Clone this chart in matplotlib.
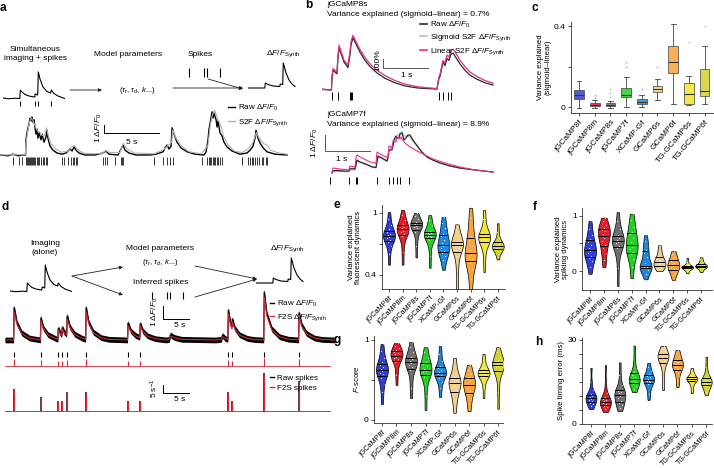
import numpy as np
import matplotlib
matplotlib.use("Agg")
import matplotlib.pyplot as plt
from matplotlib.lines import Line2D

plt.rcParams['font.family'] = ['Liberation Sans', 'DejaVu Sans']
plt.rcParams['mathtext.fontset'] = 'custom'
plt.rcParams['mathtext.rm'] = 'Liberation Sans'
plt.rcParams['mathtext.it'] = 'Liberation Sans:italic'
plt.rcParams['mathtext.bf'] = 'Liberation Sans:bold'
plt.rcParams['font.size'] = 6.0

# ------------------------------------------------------------------ data
cats = ['jGCaMP8f', 'jGCaMP8m', 'jGCaMP8s', 'jGCaMP7f', 'XCaMP-Gf',
        'GCaMP6s', 'GCaMP6f', 'TG-GCaMP6s', 'TG-GCaMP6f']
cat_colors = ['#2f3fd6', '#e41e2b', '#707070', '#25d025', '#1e88e0',
              '#f3cf8e', '#f8a43a', '#f6e52e', '#d3d32b']

# schematic traces (a, d)
sketch_spikes = [17, 32, 35, 48]
sketch_raw_t = [0, 6, 12, 16.8, 17.3, 19, 22, 26, 30, 31.8, 32.2, 34.7, 35.3, 37, 40, 44, 47.7, 48.3, 51, 55, 59, 62]
sketch_raw_v = [1.0, 0.3, 0.8, 0.5, 9.0, 7.0, 4.5, 3.0, 2.2, 2.0, 5.0, 4.0, 27.0, 20.0, 12.0, 7.5, 6.0, 9.0, 5.5, 3.0, 1.5, 0.5]
sketch_syn_t = [0, 16.8, 17.3, 20, 25, 31.8, 32.2, 34.7, 35.3, 38, 41, 44, 47]
sketch_syn_v = [0, 0, 5.0, 3.5, 2.0, 1.5, 4.0, 3.5, 25.0, 15.0, 8.0, 4.0, 1.5]

# a: recorded trace (s, dF/F)
a_raw_t = [0, 0.73, 1.18, 1.64, 2.0, 2.32, 2.36, 2.45, 2.64, 2.73, 2.82, 2.91, 3.0, 3.09, 3.18, 3.27, 3.36, 3.45, 3.55,
           3.73, 3.82, 4.0, 4.18, 4.27, 4.36, 4.55, 4.82, 5.18, 5.64, 6.0, 6.36, 6.55, 6.73, 6.91, 7.18, 7.73, 8.64,
           9.36, 9.64, 9.91, 10.73, 11.0, 11.18, 11.36, 11.73, 12.36, 13.64, 14.18, 14.82, 15.0, 15.18, 15.36, 15.55,
           15.64, 15.82, 16.09, 16.45, 17.0, 17.73, 18.55, 18.73, 18.91, 19.0, 19.18, 19.27, 19.36, 19.45, 19.64, 19.73,
           19.82, 20.0, 20.18, 20.36, 20.64, 21.09, 21.82, 22.45, 22.73, 23.0, 23.18, 23.27, 23.45, 23.64, 23.91, 24.27,
           25.0, 26.09]
a_raw_v = [0, -0.1, 0.1, -0.1, 0, 0, 1.9, 2.75, 3.9, 4.6, 4.25, 4.75, 4.1, 4.4, 3.4, 2.6, 3.25, 2.1, 2.75,
           1.9, 2.6, 1.6, 2.25, 3.1, 2.1, 1.1, 0.6, 0.25, 0.1, 0.25, 0.75, 0.5, 1.0, 0.6, 0.25, 0, 0,
           0.25, 0.5, 0.1, 0, 0.75, 1.25, 0.6, 0.25, 0, 0, 0.1, 0.4, 0.9, 1.25, 0.75, 1.1,
           3.4, 2.6, 1.6, 0.9, 0.4, 0.1, 0, 0.4, 1.9, 3.25, 4.6, 5.4, 4.6, 5.25, 4.4, 3.5,
           4.25, 2.75, 2.4, 1.6, 1.0, 0.5, 0.1, 0.25, 0.6, 1.1, 2.1, 3.1, 2.1, 1.5, 0.9, 0.4,
           0.1, 0]
a_s2f_t = [0, 2.3, 2.36, 2.5, 2.7, 2.85, 3.0, 3.2, 3.4, 3.6, 3.8, 4.0, 4.22, 4.35, 4.6, 5.0, 5.6, 6.2, 6.5, 6.75,
           7.1, 7.7, 9.3, 9.6, 10.0, 10.9, 11.2, 11.5, 12.2, 14.0, 14.9, 15.2, 15.6, 15.7, 16.0, 16.5, 17.2, 18.3,
           18.9, 19.1, 19.3, 19.5, 19.7, 19.9, 20.1, 20.3, 20.7, 21.3, 22.0, 22.6, 23.0, 23.3, 23.6, 24.0, 24.3,
           24.6, 25.2, 26.1]
a_s2f_v = [0, 0.05, 1.5, 2.8, 4.2, 4.6, 4.3, 3.6, 3.0, 2.9, 2.5, 2.3, 3.4, 2.6, 1.5, 0.8, 0.35, 0.5, 1.0, 1.2,
           0.6, 0.2, 0.15, 0.55, 0.3, 0.3, 1.5, 0.8, 0.25, 0.15, 0.7, 1.1, 1.6, 3.1, 2.1, 1.1, 0.4, 0.15,
           1.2, 3.6, 5.0, 5.6, 4.8, 4.2, 3.6, 2.4, 1.3, 0.5, 0.3, 0.8, 1.6, 2.8, 2.0, 1.4, 1.2,
           0.6, 0.3, 0.1]
a_spikes = [1.21, 1.76, 1.97, 2.36, 2.48, 2.58, 2.67, 2.73, 2.82, 2.91, 3.03, 3.12, 3.21, 3.33, 3.48, 3.58, 3.70,
            3.88, 4.03, 4.15, 4.24, 5.61, 5.82, 6.21, 6.42, 6.61, 6.73, 6.91, 7.03, 9.33, 9.52, 9.70, 10.45,
            10.97, 11.09, 11.21, 14.0, 14.85, 15.15, 15.45, 15.70, 18.33, 18.85, 18.97, 19.09, 19.21, 19.33,
            19.45, 19.58, 19.70, 19.85, 20.0, 20.15, 21.97, 22.58, 22.73, 22.88, 23.03, 23.18, 23.39, 23.58,
            23.79, 23.94, 24.15, 24.30]

# b: jGCaMP8s (s, dF/F)
b1_t = [0, 0.21, 0.222, 0.244, 0.333, 0.356, 0.378, 0.489, 0.578, 0.622, 0.644, 0.689, 0.756, 0.844, 0.956, 1.067,
        1.222, 1.4, 1.622, 1.844, 2.133, 2.556, 2.6, 2.622, 2.689, 2.733, 2.778, 2.822, 2.867, 2.911, 2.978, 3.067,
        3.178, 3.289, 3.444, 3.622, 3.8]
b1_raw = [0.1, 0.0, 1.3, 2.2, 1.8, 3.6, 4.7, 3.1, 2.5, 3.9, 5.0, 5.8, 5.1, 4.2, 3.3, 2.6, 1.9, 1.3, 0.8, 0.45, 0.22,
          0.1, 1.3, 1.5, 3.1, 2.7, 3.5, 3.3, 4.0, 4.1, 3.6, 2.9, 2.2, 1.65, 1.2, 0.8, 0.55]
b1_sig = [0.05, 0.0, 1.4, 2.3, 1.9, 3.8, 4.9, 3.3, 2.75, 4.2, 5.2, 5.9, 5.3, 4.5, 3.6, 2.9, 2.2, 1.6, 1.05, 0.65,
          0.35, 0.15, 1.4, 1.6, 3.2, 2.9, 3.8, 3.6, 4.3, 4.5, 4.0, 3.3, 2.6, 2.0, 1.5, 1.05, 0.75]
b1_lin = [0.05, 0.0, 1.5, 2.4, 2.0, 3.9, 5.0, 3.3, 2.8, 4.3, 5.4, 6.1, 5.4, 4.5, 3.6, 2.9, 2.2, 1.6, 1.05, 0.65,
          0.35, 0.15, 1.5, 1.7, 3.3, 3.0, 3.9, 3.7, 4.4, 4.55, 4.1, 3.3, 2.6, 2.0, 1.5, 1.05, 0.75]
b1_spikes = [0.222, 0.356, 0.622, 0.644, 0.667, 2.6, 2.689, 2.8, 2.867]

# b: jGCaMP7f
b2_raw_t = [0.0, 0.022, 0.089, 0.289, 0.378, 0.4, 0.444, 0.511, 0.533, 0.556, 0.622, 0.756, 0.889, 0.978, 1.0,
            1.022, 1.111, 1.222, 1.244, 1.267, 1.333, 1.356, 1.378, 1.422, 1.444, 1.489, 1.511, 1.556, 1.6, 1.644,
            1.689, 1.733, 1.8, 1.911, 2.0, 2.111, 2.244, 2.4, 2.622, 2.844, 3.178, 3.578]
b2_raw_v = [0, 0.13, 0.16, 0.12, 0.12, 0.25, 0.28, 0.25, 0.5, 0.81, 0.69, 0.56, 0.38, 0.34, 0.7,
            1.06, 0.94, 0.75, 0.94, 1.44, 1.44, 1.69, 2.06, 2.31, 2.19, 2.19, 2.44, 2.5, 2.06, 2.19,
            2.375, 2.375, 2.06, 1.63, 1.31, 1.0, 0.81, 0.63, 0.44, 0.31, 0.19, 0.06]
b2_sig_t = [0, 0.022, 0.378, 0.4, 0.511, 0.533, 0.556, 0.75, 0.978, 1.0, 1.022, 1.222, 1.267, 1.356, 1.444, 1.511,
            1.556, 1.6, 1.689, 1.733, 1.8, 1.911, 2.0, 2.111, 2.244, 2.4, 2.622, 2.844, 3.178, 3.578]
b2_sig_v = [0, 0.1, 0.08, 0.2, 0.18, 0.45, 0.75, 0.52, 0.32, 0.7, 1.0, 0.72, 1.4, 1.75, 2.3, 2.5,
            2.6, 2.3, 2.3, 2.25, 2.0, 1.6, 1.3, 1.0, 0.8, 0.62, 0.43, 0.3, 0.18, 0.06]
b2_lin_t = [0, 0.022, 0.178, 0.378, 0.4, 0.511, 0.533, 0.556, 0.667, 0.844, 0.978, 1.0, 1.111, 1.244, 1.267, 1.333,
            1.356, 1.422, 1.444, 1.511, 1.533, 1.622, 1.733, 1.889, 2.067, 2.244, 2.511, 2.844, 3.178, 3.578]
b2_lin_v = [0, 0.31, 0.25, 0.19, 0.44, 0.375, 0.94, 1.125, 0.94, 0.69, 0.6, 1.31, 1.125, 0.94, 1.69, 1.56,
            2.0, 1.94, 2.25, 2.125, 2.25, 1.875, 1.625, 1.375, 1.125, 0.875, 0.625, 0.375, 0.19, 0.06]
b2_spikes = [-0.044, 0.378, 0.533, 0.556, 1.0, 1.267, 1.356, 1.444, 1.511, 1.711]

# c: variance explained (sigmoid - linear), box statistics
c_med = [0.057, 0.010, 0.010, 0.060, 0.025, 0.090, 0.220, 0.065, 0.080]
c_q1 = [0.039, 0.003, 0.003, 0.048, 0.015, 0.074, 0.167, 0.015, 0.053]
c_q3 = [0.082, 0.018, 0.020, 0.093, 0.041, 0.105, 0.300, 0.120, 0.190]
c_lo = [-0.005, -0.005, -0.004, 0.000, 0.000, 0.036, 0.015, 0.010, 0.015]
c_hi = [0.130, 0.035, 0.032, 0.148, 0.057, 0.138, 0.410, 0.155, 0.300]
c_fliers = [[], [0.045, 0.06], [0.05, 0.07, 0.09], [0.2, 0.22], [0.09], [0.2], [], [0.32], [0.4]]

# d: imaging alone (s, dF/F) and spikes
d_t = [0, 1.65, 1.75, 2.3, 3.2, 4.7, 6.8, 6.9, 7.4, 8.3, 9.8, 10.15, 10.25, 10.6, 10.9, 11.0, 11.4, 11.85, 11.95,
       12.5, 13.4, 14.9, 15.5, 15.6, 16.1, 17.0, 18.5, 20.0, 23.55, 23.65, 24.2, 25.1, 25.9, 26.0, 26.5, 27.4, 28.9,
       31.0, 31.6, 31.8, 32.5, 34.0, 40.5, 41.6, 41.8, 42.4, 42.85, 42.95, 43.4, 43.6, 43.7, 44.2, 45.1, 46.6, 48.0,
       49.75, 49.85, 50.35, 51.3, 52.8, 54.5, 56.45, 56.55, 57.05, 58.0, 59.5, 61.0, 63.5]
d_raw = [0, 0, 2.5, 1.3, 0.55, 0.15, 0.0, 1.7, 0.9, 0.4, 0.1, 0.05, 0.9, 0.55, 0.4, 0.95, 0.6, 0.45, 1.85,
         1.0, 0.45, 0.12, 0.05, 2.5, 1.35, 0.6, 0.18, 0.05, 0.0, 1.3, 0.7, 0.35, 0.2, 1.25, 0.7, 0.32, 0.1,
         0.0, 0.05, 0.4, 0.2, 0.05, 0.0, 0.05, 0.35, 0.1, 0.05, 2.3, 1.2, 1.0, 1.6, 0.9, 0.4, 0.12, 0.03,
         0.0, 3.7, 2.0, 0.85, 0.25, 0.06, 0.0, 2.1, 1.15, 0.5, 0.15, 0.04, 0.0]
d_f2s = [0, 0, 2.2, 1.2, 0.5, 0.14, 0.0, 1.5, 0.85, 0.38, 0.1, 0.05, 0.8, 0.5, 0.38, 0.85, 0.55, 0.42, 1.6,
         0.95, 0.42, 0.12, 0.05, 2.2, 1.25, 0.55, 0.17, 0.05, 0.0, 1.1, 0.65, 0.32, 0.18, 1.1, 0.65, 0.3, 0.1,
         0.0, 0.05, 0.3, 0.18, 0.05, 0.0, 0.05, 0.25, 0.1, 0.05, 2.0, 1.1, 0.95, 1.4, 0.85, 0.38, 0.12, 0.03,
         0.0, 3.3, 1.85, 0.8, 0.24, 0.06, 0.0, 1.9, 1.05, 0.48, 0.15, 0.04, 0.0]
d_spikes = [1.75, 6.9, 10.25, 11.0, 11.95, 15.6, 23.65, 26.0, 42.95, 43.7, 49.85, 56.55]
d_inferred = [0.55, 0.45, 0.35, 0.35, 0.45, 0.5, 0.35, 0.35, 0.45, 0.35, 0.6, 0.5]
d_rate_raw = [14, 8.5, 6.5, 6.5, 12, 12, 6.5, 6.5, 12, 6.5, 23.5, 19]
d_rate_f2s = [13, 8, 6, 6, 11.5, 11.5, 6, 6, 11.5, 6, 22.5, 18]

# e: variance explained, fluorescent dynamics (per-cell values)
e_data = [
    [0.50, 0.60, 0.68, 0.72, 0.74, 0.76, 0.77, 0.78, 0.79, 0.80, 0.82, 0.84, 0.88, 0.94, 1.01],
    [0.50, 0.62, 0.72, 0.78, 0.80, 0.82, 0.83, 0.84, 0.85, 0.86, 0.88, 0.89, 0.93, 0.98, 1.03],
    [0.57, 0.68, 0.76, 0.82, 0.85, 0.86, 0.87, 0.88, 0.89, 0.90, 0.90, 0.91, 0.94, 0.97, 1.00],
    [0.47, 0.58, 0.68, 0.74, 0.77, 0.78, 0.78, 0.79, 0.80, 0.81, 0.81, 0.83, 0.88, 0.93, 0.98],
    [0.45, 0.54, 0.58, 0.61, 0.63, 0.66, 0.68, 0.69, 0.71, 0.74, 0.78, 0.80, 0.85, 0.90, 0.96],
    [0.25, 0.38, 0.50, 0.58, 0.66, 0.68, 0.68, 0.69, 0.70, 0.70, 0.71, 0.73, 0.78, 0.84, 0.89],
    [0.25, 0.36, 0.46, 0.52, 0.55, 0.57, 0.59, 0.61, 0.64, 0.68, 0.74, 0.78, 0.86, 0.95, 1.05],
    [0.43, 0.55, 0.65, 0.71, 0.73, 0.74, 0.75, 0.765, 0.77, 0.78, 0.79, 0.80, 0.86, 0.94, 1.03],
    [0.55, 0.60, 0.63, 0.65, 0.66, 0.665, 0.67, 0.68, 0.69, 0.70, 0.71, 0.72, 0.76, 0.82, 0.90],
]
# f: variance explained, spiking dynamics
f_data = [
    [-0.05, 0.08, 0.18, 0.23, 0.27, 0.32, 0.36, 0.38, 0.41, 0.47, 0.53, 0.58, 0.66, 0.77, 0.91],
    [0.07, 0.20, 0.32, 0.42, 0.48, 0.55, 0.60, 0.64, 0.68, 0.72, 0.75, 0.78, 0.83, 0.90, 0.97],
    [-0.27, 0.05, 0.28, 0.42, 0.46, 0.50, 0.53, 0.55, 0.57, 0.60, 0.63, 0.66, 0.76, 0.90, 1.07],
    [-0.13, 0.08, 0.22, 0.31, 0.35, 0.40, 0.44, 0.47, 0.52, 0.60, 0.67, 0.71, 0.80, 0.92, 1.04],
    [-0.15, -0.05, 0.02, 0.05, 0.07, 0.08, 0.09, 0.10, 0.15, 0.25, 0.33, 0.38, 0.45, 0.55, 0.65],
    [0.0, 0.03, 0.06, 0.08, 0.10, 0.12, 0.14, 0.16, 0.18, 0.20, 0.23, 0.27, 0.32, 0.39, 0.47],
    [-0.16, -0.08, -0.03, 0.01, 0.03, 0.06, 0.09, 0.11, 0.13, 0.15, 0.18, 0.22, 0.26, 0.31, 0.36],
    [-0.04, 0.0, 0.03, 0.045, 0.055, 0.06, 0.065, 0.07, 0.075, 0.08, 0.085, 0.095, 0.12, 0.17, 0.24],
    [-0.02, 0.02, 0.05, 0.065, 0.075, 0.08, 0.085, 0.09, 0.10, 0.11, 0.125, 0.14, 0.17, 0.21, 0.25],
]
# g: F-score
g_data = [
    [0.20, 0.35, 0.45, 0.53, 0.57, 0.59, 0.61, 0.62, 0.64, 0.66, 0.69, 0.72, 0.78, 0.86, 0.95],
    [0.44, 0.56, 0.65, 0.72, 0.76, 0.78, 0.79, 0.80, 0.82, 0.84, 0.85, 0.87, 0.90, 0.93, 0.96],
    [0.275, 0.40, 0.52, 0.62, 0.66, 0.69, 0.71, 0.72, 0.74, 0.76, 0.77, 0.79, 0.85, 0.91, 0.975],
    [0.125, 0.30, 0.45, 0.54, 0.58, 0.60, 0.61, 0.625, 0.64, 0.67, 0.70, 0.72, 0.78, 0.85, 0.91],
    [0.29, 0.40, 0.48, 0.53, 0.56, 0.58, 0.585, 0.59, 0.60, 0.63, 0.65, 0.68, 0.74, 0.83, 0.925],
    [0.09, 0.20, 0.28, 0.33, 0.37, 0.41, 0.44, 0.46, 0.48, 0.50, 0.51, 0.54, 0.60, 0.68, 0.775],
    [0.11, 0.20, 0.27, 0.32, 0.36, 0.40, 0.42, 0.44, 0.46, 0.49, 0.51, 0.54, 0.58, 0.63, 0.69],
    [0.275, 0.40, 0.48, 0.54, 0.56, 0.57, 0.58, 0.585, 0.59, 0.60, 0.61, 0.63, 0.68, 0.75, 0.825],
    [0.14, 0.35, 0.50, 0.60, 0.63, 0.66, 0.68, 0.69, 0.70, 0.71, 0.72, 0.74, 0.79, 0.85, 0.91],
]
# h: spike timing error (ms)
h_data = [
    [5.3, 6.3, 7.0, 7.6, 8.2, 8.7, 9.0, 9.3, 9.6, 10.0, 10.3, 10.6, 12.0, 15.0, 20.0],
    [4.3, 5.2, 5.9, 6.5, 7.1, 7.5, 7.7, 7.9, 8.2, 8.7, 9.1, 9.6, 11.0, 14.5, 21.0],
    [4.6, 5.8, 6.7, 7.5, 8.3, 9.2, 9.9, 10.4, 10.9, 11.4, 11.8, 12.3, 14.0, 17.5, 22.0],
    [11.4, 12.5, 13.4, 14.3, 14.9, 15.4, 15.7, 16.0, 16.4, 16.9, 17.6, 18.5, 20.0, 23.5, 28.0],
    [8.6, 10.8, 12.5, 14.2, 14.9, 15.2, 15.5, 15.7, 16.1, 16.7, 17.3, 17.8, 18.8, 20.2, 21.8],
    [12.1, 15.5, 18.5, 21.2, 22.4, 23.0, 23.3, 23.6, 24.0, 24.5, 24.9, 25.3, 26.0, 27.0, 27.9],
    [13.2, 15.3, 17.2, 18.9, 19.7, 20.3, 20.7, 21.0, 21.4, 22.0, 22.6, 23.2, 24.2, 25.3, 26.4],
    [11.0, 12.6, 13.9, 15.2, 15.6, 15.8, 15.9, 16.0, 16.2, 16.5, 16.7, 17.0, 17.8, 18.9, 20.0],
    [10.4, 11.6, 12.6, 13.6, 14.2, 14.6, 14.8, 15.0, 15.3, 15.7, 16.2, 16.7, 18.0, 20.5, 24.0],
]

# ------------------------------------------------------------------ figure
W, H = 714, 468
fig = plt.figure(figsize=(W / 100, H / 100), dpi=100)

ov = fig.add_axes([0, 0, 1, 1])
ov.set_xlim(0, W)
ov.set_ylim(H, 0)
ov.axis('off')


def pax(x0, y0, x1, y1):
    ax = fig.add_axes([x0 / W, 1 - y1 / H, (x1 - x0) / W, (y1 - y0) / H])
    ax.patch.set_alpha(0)
    return ax


def trace_ax(x0, y0, x1, y1, xlim, ylim):
    ax = pax(x0, y0, x1, y1)
    ax.set_xlim(*xlim)
    ax.set_ylim(*ylim)
    ax.axis('off')
    return ax


def arrow(x0, y0, x1, y1):
    ov.annotate('', xy=(x1, y1), xytext=(x0, y0),
                arrowprops=dict(arrowstyle='-|>', lw=0.6, color='#222222',
                                mutation_scale=5, shrinkA=0, shrinkB=0))


def panel_label(x, y, s):
    ov.text(x, y, s, fontsize=8.5, fontweight='bold', ha='left', va='center')


def legend(ax, handles, labels, x, y, spacing=0.3, hl=0.9):
    ax.legend(handles, labels, loc='upper left', bbox_to_anchor=(x / W, 1 - y / H),
              bbox_transform=fig.transFigure, frameon=False, handlelength=hl,
              handletextpad=0.4, labelspacing=spacing, borderpad=0, borderaxespad=0,
              fontsize=5.8)


DFF0 = r'$\Delta F/F_0$'
DFFS = r'$\Delta F/F_{\mathrm{Synth}}$'

# ------------------------------------------------------------------ a
panel_label(0, 8, 'a')
ov.text(35, 54, 'Simultaneous\nimaging + spikes', ha='center', va='center', linespacing=1.25)
ov.text(128, 54, 'Model parameters', ha='center', va='center')
ov.text(137, 90, r'($\tau_r$, $\tau_d$, $k$...)', ha='center', va='center', fontsize=5.6)
ov.text(200, 54, 'Spikes', ha='center', va='center')
ov.text(266, 54, DFFS, ha='left', va='center')
arrow(70, 90, 102, 90)
arrow(173, 88, 243, 88)
arrow(208, 79, 243, 89)

ax = trace_ax(3, 66, 65, 108, (0, 62), (-9, 33))
ax.plot(sketch_raw_t, sketch_raw_v, color='black', lw=0.8)
ax.vlines(sketch_spikes, -2, -7, color='black', lw=0.7)
ax = trace_ax(172, 66, 234, 80, (0, 62), (0, 1))
ax.vlines(sketch_spikes, 0.2, 0.85, color='black', lw=0.8)
ax = trace_ax(248, 58, 310, 100, (0, 62), (-12, 30))
ax.plot(sketch_syn_t, sketch_syn_v, color='black', lw=0.8)

ax = trace_ax(0, 103, 290, 168, (0, 26.36), (-1.625, 6.5))
ax.plot(a_raw_t, a_raw_v, color='black', lw=1.0)
ax.plot(a_s2f_t, a_s2f_v, color='#b3b3b3', lw=0.8)
ax.vlines(a_spikes, -0.25, -1.25, color='black', lw=0.55)
ax.plot([9.45, 9.45, 14.45], [3.75, 2.75, 2.75], color='black', lw=0.7)
ax.text(11.95, 2.05, '5 s', ha='center', va='top')
ax.text(8.95, 3.4, '1 ' + DFF0, ha='center', va='center', rotation=90)
legend(ax, [Line2D([], [], color='black', lw=1.0), Line2D([], [], color='#b3b3b3', lw=1.0)],
       ['Raw ' + DFF0, 'S2F ' + DFFS], 228, 103, spacing=0.55)

# ------------------------------------------------------------------ b
panel_label(305, 5, 'b')
ov.text(327, 5, 'jGCaMP8s', ha='left', va='center')
ov.text(327, 14, 'Variance explained (sigmoid\u2013linear) = 0.7%', ha='left', va='center')
ov.text(327, 115, 'jGCaMP7f', ha='left', va='center')
ov.text(327, 125, 'Variance explained (sigmoid\u2013linear) = 8.9%', ha='left', va='center')

raw_c, sig_c, lin_c = '#2a2a2a', '#bdbdbd', '#ec2f8c'
ax = trace_ax(322, 18, 497, 102, (0, 3.89), (-1.333, 8.0))
ax.plot(b1_t, b1_sig, color=sig_c, lw=0.9)
ax.plot(b1_t, b1_raw, color=raw_c, lw=0.9)
ax.plot(b1_t, b1_lin, color=lin_c, lw=0.8)
ax.vlines(b1_spikes, -0.22, -1.11, color='black', lw=0.7)
ax.plot([1.356, 1.356, 2.356], [3.44, 2.44, 2.44], color='#555555', lw=0.7)
ax.text(1.89, 1.56, '1 s', ha='center', va='center')
ax.text(1.25, 3.3, '100%', ha='center', va='center', rotation=90)
legend(ax, [Line2D([], [], color=raw_c, lw=1.2), Line2D([], [], color=sig_c, lw=1.2),
            Line2D([], [], color=lin_c, lw=1.2)],
       ['Raw ' + DFF0, 'Sigmoid S2F ' + DFFS, 'Linear S2F ' + DFFS], 420, 20, spacing=0.3)

ax = trace_ax(312, 128, 497, 186, (-0.444, 3.667), (-0.8125, 2.8125))
ax.plot(b2_sig_t, b2_sig_v, color=sig_c, lw=0.9)
ax.plot(b2_raw_t, b2_raw_v, color=raw_c, lw=0.9)
ax.plot(b2_lin_t, b2_lin_v, color=lin_c, lw=0.8)
ax.vlines(b2_spikes, -0.25, -0.69, color='black', lw=0.7)
ax.plot([-0.156, -0.156, 0.844], [2.375, 1.375, 1.375], color='#555555', lw=0.7)
ax.text(0.222, 0.85, '1 s', ha='center', va='center')
ax.text(-0.37, 1.85, '1 ' + DFF0, ha='center', va='center', rotation=90)


# ------------------------------------------------------------------ helpers for stats panels
def style(ax, xlim, ylim, yticks, yticklabels, ylabel, xfs=5.2, rot=45):
    for s in ['top', 'right']:
        ax.spines[s].set_visible(False)
    for s in ['left', 'bottom']:
        ax.spines[s].set_linewidth(0.6)
        ax.spines[s].set_color('#333333')
    ax.set_xlim(*xlim)
    ax.set_ylim(*ylim)
    ax.set_yticks(yticks)
    ax.set_yticklabels(yticklabels)
    ax.set_xticks(range(len(cats)))
    ax.set_xticklabels(cats, rotation=rot, ha='right', rotation_mode='anchor', fontsize=xfs)
    ax.tick_params(length=2.2, width=0.6, color='#333333', labelsize=6.0, pad=1.5)
    ax.tick_params(axis='x', pad=2, labelsize=xfs)
    ax.set_ylabel(ylabel, fontsize=5.6, labelpad=2, linespacing=1.15)


offs = np.array([-0.14, 0.0, 0.14, -0.07, 0.07])


def violins(ax, data, width):
    parts = ax.violinplot(data, positions=range(len(data)), widths=width,
                          showextrema=False, bw_method=0.45)
    for i, body in enumerate(parts['bodies']):
        body.set_facecolor(cat_colors[i])
        body.set_edgecolor('black')
        body.set_linewidth(0.5)
        body.set_alpha(1)
        path = body.get_paths()[0]
        q = np.percentile(data[i], [25, 50, 75])
        lc = ax.hlines(q, i - width / 2, i + width / 2, colors='black', linewidth=0.7, zorder=3)
        lc.set_clip_path(path, ax.transData)
        xs = i + np.resize(offs, len(data[i]))
        sc = ax.scatter(xs, data[i], s=0.8, color='#e6e6e6', linewidths=0, zorder=2.5)
        sc.set_clip_path(path, ax.transData)


# ------------------------------------------------------------------ c
panel_label(532, 8, 'c')
ax = pax(571, 22, 714, 113)
stats = []
for i in range(len(cats)):
    stats.append(dict(med=c_med[i], q1=c_q1[i], q3=c_q3[i], whislo=c_lo[i],
                      whishi=c_hi[i], fliers=c_fliers[i]))
bp = ax.bxp(stats, positions=range(len(cats)), widths=0.62, patch_artist=True,
            boxprops=dict(edgecolor='#444444', linewidth=0.6),
            medianprops=dict(color='#333333', linewidth=0.8),
            whiskerprops=dict(color='#444444', linewidth=0.6),
            capprops=dict(color='#444444', linewidth=0.6),
            flierprops=dict(marker='o', markersize=1.3, markerfacecolor='#bbbbbb',
                            markeredgecolor='none'))
for i, b in enumerate(bp['boxes']):
    b.set_facecolor(cat_colors[i])
    b.set_alpha(0.85)
style(ax, (-0.51, 8.6), (-0.0296, 0.42), [0, 0.2, 0.4], ['0', '', '0.4'],
      'Variance explained\n(sigmoid\u2013linear)', xfs=6.0, rot=50)

# ------------------------------------------------------------------ d
panel_label(2, 207, 'd')
ov.text(45, 248, 'Imaging\n(alone)', ha='center', va='center', linespacing=1.25)
ov.text(160, 249, 'Model parameters', ha='center', va='center')
ov.text(160, 263, r'($\tau_r$, $\tau_d$, $k$...)', ha='center', va='center', fontsize=5.6)
ov.text(161, 283, 'Inferred spikes', ha='center', va='center')
ov.text(270, 249, DFFS, ha='left', va='center')
arrow(72, 276, 123, 267)
arrow(72, 276, 123, 295)
arrow(195, 266, 257, 279)
arrow(195, 297, 257, 279)

ax = trace_ax(10, 258, 72, 300, (0, 62), (-8, 34))
ax.plot(sketch_raw_t, sketch_raw_v, color='black', lw=0.8)
ax = trace_ax(135, 290, 197, 301, (0, 62), (0, 1))
ax.vlines(sketch_spikes, 0.15, 0.85, color='black', lw=0.8)
ax = trace_ax(256, 255, 318, 290, (0, 62), (-7, 28))
ax.plot(sketch_syn_t, sketch_syn_v, color='black', lw=0.8)

red = '#d8283a'
ax = trace_ax(5, 288, 335, 370, (0, 63.46), (-2.31, 4.0))
ax.fill_between(d_t, np.array(d_raw) - 0.22, np.array(d_raw) + 0.22, color='black', lw=0)
ax.plot(d_t, d_raw, color='black', lw=0.9)
ax.plot(d_t, d_f2s, color=red, lw=0.8)
ax.vlines(d_spikes, -0.92, -1.31, color='black', lw=0.8)
ax.axhline(-2.0, xmin=0, xmax=0.985, color=red, lw=0.6)
ax.vlines(d_spikes, -2.0, -2.0 + np.array(d_inferred), color=red, lw=0.8)
ax.plot([30.4, 30.4, 35.4], [2.6, 1.6, 1.6], color='black', lw=0.7)
ax.text(33.6, 1.15, '5 s', ha='center', va='center')
ax.text(28.85, 2.15, '1 ' + DFF0, ha='center', va='center', rotation=90)
legend(ax, [Line2D([], [], color='black', lw=1.0), Line2D([], [], color=red, lw=1.0)],
       ['Raw ' + DFF0, 'F2S ' + DFFS], 270, 299, spacing=0.35, hl=0.5)

ax = trace_ax(5, 370, 335, 416, (0, 63.46), (-3.125, 25.6))
ax.axhline(0, xmin=0, xmax=0.985, color='#888888', lw=0.6)
ax.vlines(d_spikes, 0, d_rate_raw, color='#444444', lw=1.4)
ax.axhline(0.2, xmin=0, xmax=0.985, color=red, lw=0.6)
ax.vlines(d_spikes, 0, d_rate_f2s, color=red, lw=0.9)
ax.plot([30.4, 30.4, 35.4], [16.25, 11.25, 11.25], color='black', lw=0.7)
ax.text(33.6, 7.2, '5 s', ha='center', va='center')
ax.text(28.65, 14.4, r'5 s$^{-1}$', ha='center', va='center', rotation=90)
legend(ax, [Line2D([], [], color='black', lw=1.0), Line2D([], [], color=red, lw=1.0)],
       ['Raw spikes', 'F2S spikes'], 270, 374, spacing=0.35, hl=0.5)

# ------------------------------------------------------------------ e
panel_label(334, 205, 'e')
ax = pax(382, 205, 505, 289)
violins(ax, e_data, 0.88)
style(ax, (-0.515, 8.53), (0.264, 1.077), [0.4, 0.7, 1.0], ['0.4', '', '1'],
      'Variance explained\nfluorescent dynamics')

# ------------------------------------------------------------------ f
panel_label(533, 207, 'f')
ax = pax(582, 208, 712, 290)
violins(ax, f_data, 0.86)
style(ax, (-0.576, 8.78), (-0.345, 1.145), [0, 0.5, 1.0], ['0', '', '1'],
      'Variance explained\nspiking dynamics')

# ------------------------------------------------------------------ g
panel_label(334, 340, 'g')
ax = pax(374, 336, 503, 423)
violins(ax, g_data, 0.83)
style(ax, (-0.55, 8.34), (-0.0375, 1.05), [0, 0.5, 1.0], ['0', '', '1'], r'$F$-score')

# ------------------------------------------------------------------ h
panel_label(535, 342, 'h')
ax = pax(582, 338, 712, 424)
violins(ax, h_data, 0.76)
style(ax, (-0.625, 8.4), (0, 30.7), [0, 5, 10, 15, 20, 25, 30], ['0', '', '', '', '', '', '30'],
      'Spike timing error (ms)')

fig.savefig('out.png', dpi=100)
